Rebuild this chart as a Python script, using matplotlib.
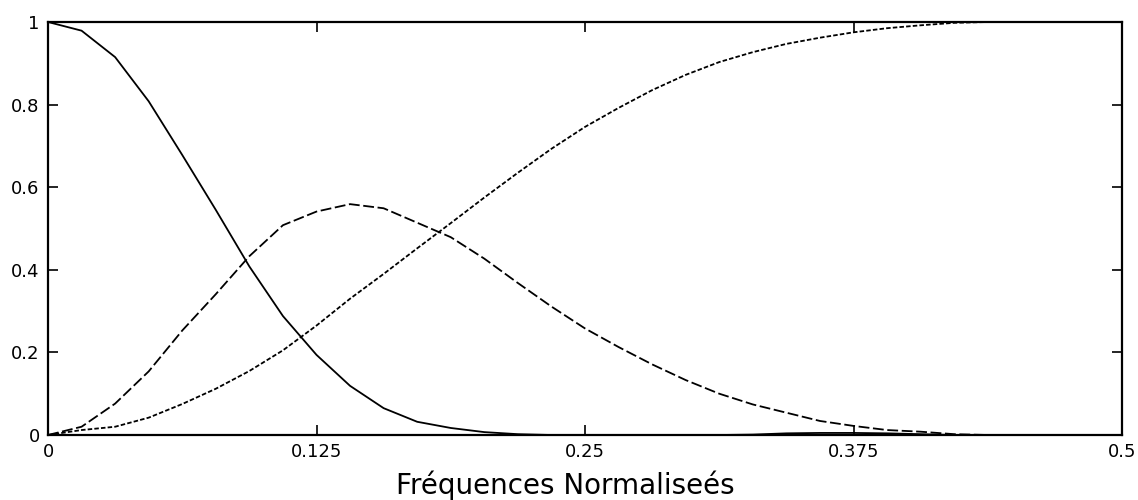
import numpy as np
from matplotlib import pyplot as plt

# normalized frequency grid (step 1/64)
freq = np.arange(33) / 64

low_pass = [1.0, 0.979, 0.915, 0.808, 0.678, 0.545, 0.408, 0.288, 0.194,
            0.119, 0.065, 0.032, 0.017, 0.007, 0.002, 0.0, 0.0, 0.0, 0.0,
            0.0, 0.0, 0.001, 0.004, 0.005, 0.005, 0.004, 0.002, 0.0, 0.0,
            0.0, 0.0, 0.0, 0.0]
band_pass = [0.0, 0.02, 0.076, 0.154, 0.253, 0.341, 0.433, 0.508, 0.541,
             0.559, 0.549, 0.514, 0.479, 0.427, 0.368, 0.311, 0.258, 0.213,
             0.171, 0.133, 0.1, 0.074, 0.054, 0.034, 0.022, 0.012, 0.008,
             0.002, 0.0, 0.0, 0.0, 0.0, 0.0]
high_pass = [0.0, 0.012, 0.02, 0.042, 0.075, 0.112, 0.155, 0.205, 0.265,
             0.33, 0.39, 0.452, 0.513, 0.575, 0.635, 0.693, 0.746, 0.792,
             0.835, 0.872, 0.903, 0.927, 0.947, 0.962, 0.975, 0.985, 0.992,
             0.998, 1.0, 1.0, 1.0, 1.0, 1.0]

xticks = [0, 0.125, 0.25, 0.375, 0.5]
xtick_labels = ["0", "0.125", "0.25", "0.375", "0.5"]
yticks = [0, 0.2, 0.4, 0.6, 0.8, 1]
ytick_labels = ["0", "0.2", "0.4", "0.6", "0.8", "1"]

fig = plt.figure(figsize=(11.38, 5), dpi=100)
ax = fig.add_axes([48 / 1138, 65 / 500, 1074 / 1138, 413 / 500])

ax.plot(freq, low_pass, color="black", lw=1.3, ls="-")
ax.plot(freq, band_pass, color="black", lw=1.3, ls=(0, (6, 2)))
ax.plot(freq, high_pass, color="black", lw=1.3, ls=(0, (2.5, 1.2)))

ax.set_xlim(0, 0.5)
ax.set_ylim(0, 1)
ax.set_xticks(xticks)
ax.set_xticklabels(xtick_labels)
ax.set_yticks(yticks)
ax.set_yticklabels(ytick_labels)
ax.tick_params(direction="in", length=7, width=1.2, top=True, right=True,
               labelsize=13, pad=6)
for s in ax.spines.values():
    s.set_linewidth(1.6)

ax.set_xlabel("Fréquences Normaliseés", fontsize=20)
ax.xaxis.set_label_coords(0.482, -0.085)

fig.savefig("out.png", dpi=100)
